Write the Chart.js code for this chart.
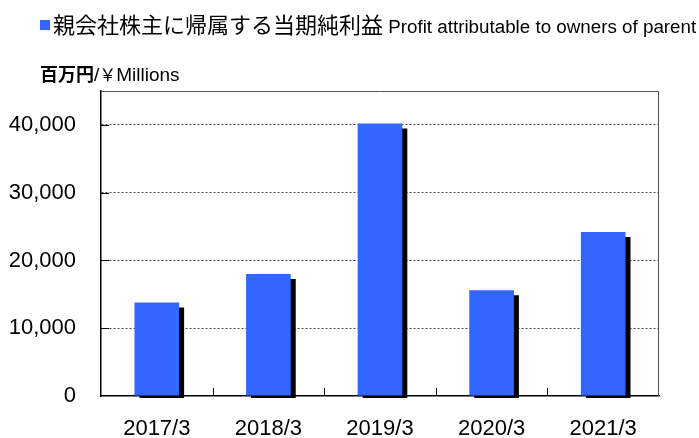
<!DOCTYPE html>
<html>
<head>
<meta charset="utf-8">
<script src="https://cdn.jsdelivr.net/npm/chart.js@4.4.1/dist/chart.umd.min.js"></script>
<style>
  body { margin: 0; background: #fff; }
  #wrap { width: 699px; height: 438px; }
</style>
</head>
<body>
<div id="wrap"><canvas id="chart"></canvas></div>
<script>
const years = ['2017/3', '2018/3', '2019/3', '2020/3', '2021/3'];
const profit = [13800, 18000, 40200, 15600, 24200];
const yTicks = [0, 10000, 20000, 30000, 40000];
const seriesJa = '親会社株主に帰属する当期純利益';
const seriesEn = 'Profit attributable to owners of parent';
const unitJa = '百万円';
const unitEn = 'Millions';

const barBlue = '#3366ff';
const latin = '"Liberation Sans", Arial, sans-serif';
const cjk = '"Noto Sans CJK JP", sans-serif';

// black drop shadow under the bars, like the old excel style
const shadowPlugin = {
    id: 'barShadow',
    beforeDatasetDraw(chart) {
        const c = chart.ctx;
        c.save();
        c.shadowColor = '#000';
        c.shadowOffsetX = 5;
        c.shadowOffsetY = 5;
        c.shadowBlur = 0;
    },
    afterDatasetDraw(chart) {
        chart.ctx.restore();
    }
};

// frame on top/right plus the small inward ticks, legend and unit text
const framePlugin = {
    id: 'frame',
    beforeDatasetsDraw(chart) {
        const { ctx: c, chartArea: a, scales } = chart;
        c.save();
        c.strokeStyle = '#555';
        c.lineWidth = 1;
        c.beginPath();
        c.moveTo(a.left, a.top + 0.5);
        c.lineTo(a.right - 0.5, a.top + 0.5);
        c.lineTo(a.right - 0.5, a.bottom);
        c.stroke();

        c.strokeStyle = '#000';
        c.beginPath();
        const x = scales.x;
        const half = (x.getPixelForValue(1) - x.getPixelForValue(0)) / 2;
        for (let i = 0; i < years.length - 1; i++) {
            const px = Math.round(x.getPixelForValue(i) + half) + 0.5;
            c.moveTo(px, a.bottom);
            c.lineTo(px, a.bottom - 8);
        }
        yTicks.forEach(v => {
            if (v === 0) return;
            const py = Math.round(scales.y.getPixelForValue(v)) + 0.5;
            c.moveTo(a.left, py);
            c.lineTo(a.left + 8, py);
        });
        c.stroke();
        c.restore();
    },
    afterDraw(chart) {
        const c = chart.ctx;
        c.save();
        c.textBaseline = 'alphabetic';
        // legend
        c.fillStyle = barBlue;
        c.fillRect(40, 20, 10, 10);
        c.fillStyle = '#000';
        c.font = '22px ' + cjk;
        c.fillText(seriesJa, 53, 33);
        let w = c.measureText(seriesJa).width;
        c.font = '18.8px ' + latin;
        c.fillText(' ' + seriesEn, 53 + w, 33);
        // unit label
        let ux = 40;
        c.font = 'bold 18px ' + cjk;
        c.fillText(unitJa, ux, 81);
        ux += c.measureText(unitJa).width;
        c.font = '19px ' + latin;
        c.fillText('/', ux, 81);
        ux += c.measureText('/').width;
        c.font = '17px ' + cjk;
        c.fillText('￥', ux, 81);
        ux += c.measureText('￥').width;
        c.font = '19px ' + latin;
        c.fillText(unitEn, ux, 81);
        c.restore();
    }
};

new Chart(document.getElementById('chart'), {
    type: 'bar',
    data: {
        labels: years,
        datasets: [{
            data: profit,
            backgroundColor: barBlue,
            borderWidth: 0,
            barPercentage: 0.4,
            categoryPercentage: 1,
            clip: { left: 5, top: 5, right: 10, bottom: 2 }
        }]
    },
    options: {
        responsive: true,
        maintainAspectRatio: false,
        animation: false,
        layout: { padding: { top: 91, right: 40, left: 0, bottom: 0 } },
        plugins: {
            legend: { display: false },
            tooltip: { enabled: false }
        },
        scales: {
            x: {
                grid: { display: false },
                border: { color: '#000', width: 1.5 },
                ticks: {
                    color: '#000',
                    font: { family: latin, size: 22 },
                    padding: 12
                },
                afterFit(scale) { scale.height = 42; }
            },
            y: {
                min: 0,
                max: 45000,
                afterBuildTicks(scale) {
                    scale.ticks = yTicks.map(v => ({ value: v }));
                },
                grid: {
                    drawTicks: false,
                    color: ctx => (ctx.tick && ctx.tick.value === 0) ? 'rgba(0,0,0,0)' : '#444',
                    lineWidth: 1
                },
                border: { color: '#000', width: 1.5, dash: [2, 2] },
                ticks: {
                    color: '#000',
                    font: { family: latin, size: 22 },
                    padding: 25,
                    callback: v => v.toLocaleString('en-US')
                },
                afterFit(scale) { scale.width = 101; }
            }
        }
    },
    plugins: [shadowPlugin, framePlugin]
});
</script>
</body>
</html>
